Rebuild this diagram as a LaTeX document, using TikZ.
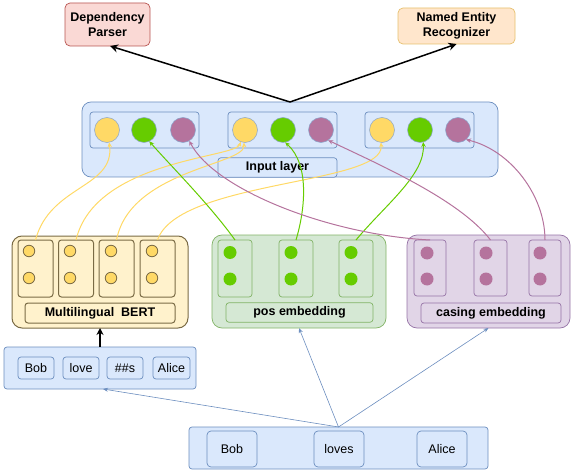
\documentclass[tikz,border=0pt]{standalone}
\usepackage{fontspec}
\setmainfont{Liberation Sans}
\usetikzlibrary{arrows.meta,calc}

\definecolor{blueFill}{HTML}{DAE8FC}
\definecolor{blueLine}{HTML}{6C8EBF}
\definecolor{redFill}{HTML}{FAD9D5}
\definecolor{redLine}{HTML}{B85450}
\definecolor{orangeFill}{HTML}{FFE6CC}
\definecolor{orangeLine}{HTML}{E6C06E}
\definecolor{bertFill}{HTML}{FFF2CC}
\definecolor{bertLine}{HTML}{7A6B45}
\definecolor{yel}{HTML}{FFD966}
\definecolor{greenFill}{HTML}{D5E8D4}
\definecolor{greenLine}{HTML}{82B366}
\definecolor{grn}{HTML}{66CC00}
\definecolor{purpleFill}{HTML}{E1D5E7}
\definecolor{purpleLine}{HTML}{9673A6}
\definecolor{pur}{HTML}{B5739D}

\begin{document}
\begin{tikzpicture}[x=1pt,y=-1pt,
  every node/.style={inner sep=0pt,outer sep=0pt},
  lbl/.style={font=\fontsize{12.5}{14.5}\selectfont\bfseries,align=center},
  tok/.style={font=\fontsize{12.5}{14.5}\selectfont},
  box/.style 2 args={minimum width=#1,minimum height=#2},
  bluebox/.style={draw=blueLine,fill=blueFill,line width=0.7pt,rounded corners=#1},
  bluebox/.default=3pt,
  bertbox/.style={draw=bertLine,fill=bertFill,line width=1pt,rounded corners=#1},
  bertbox/.default=3pt,
  greenbox/.style={draw=greenLine,fill=greenFill,line width=0.7pt,rounded corners=#1},
  greenbox/.default=3pt,
  purplebox/.style={draw=purpleLine,fill=purpleFill,line width=0.7pt,rounded corners=#1},
  purplebox/.default=3pt,
  bigdot/.style={circle,draw=blueLine!80,line width=0.5pt,minimum size=25pt},
  ydot/.style={circle,fill=yel,draw=bertLine,line width=0.8pt,minimum size=11.5pt},
  gdot/.style={circle,fill=grn,minimum size=13pt},
  pdot/.style={circle,fill=pur,minimum size=13pt},
  headarrow/.style={draw=black,line width=1.5pt,-{Stealth[length=8pt,width=8pt]}},
  feedarrow/.style={draw=blueLine,line width=0.6pt,-{Stealth[length=5pt,width=4pt]}},
  ylink/.style={draw=yel,line width=1pt,-{Stealth[length=5pt,width=4.5pt]}},
  glink/.style={draw=grn,line width=1pt,-{Stealth[length=5pt,width=4.5pt]}},
  plink/.style={draw=pur,line width=1pt,-{Stealth[length=5pt,width=4.5pt]}},
]
\useasboundingbox (0,0) rectangle (572,470);

% task heads
\node[lbl,box={85pt}{43pt},draw=redLine,fill=redFill,line width=0.7pt,rounded corners=5pt]
  (dep) at (107.5,24.5) {Dependency\\Parser};
\node[lbl,box={117pt}{36pt},draw=orangeLine,fill=orangeFill,line width=0.7pt,rounded corners=5pt]
  (ner) at (456.5,26) {Named Entity\\Recognizer};

% input layer
\node[bluebox=9pt,box={416pt}{75pt}] (inp) at (290,139.5) {};
\node[bluebox,box={109pt}{36pt}] (g1) at (144.5,130) {};
\node[bluebox,box={109pt}{36pt}] (g2) at (282.5,130) {};
\node[bluebox,box={109pt}{36pt}] (g3) at (419.5,130) {};
\node[bluebox,box={119pt}{19.5pt},lbl] (inplbl) at (277.5,167.5) {Input layer};
\node[bigdot,fill=yel] (iy1) at (107,130) {};
\node[bigdot,fill=grn] (ig1) at (144,130) {};
\node[bigdot,fill=pur] (ip1) at (183,130) {};
\node[bigdot,fill=yel] (iy2) at (245,130) {};
\node[bigdot,fill=grn] (ig2) at (283,130) {};
\node[bigdot,fill=pur] (ip2) at (321,130) {};
\node[bigdot,fill=yel] (iy3) at (382,130) {};
\node[bigdot,fill=grn] (ig3) at (420,130) {};
\node[bigdot,fill=pur] (ip3) at (458,130) {};

% multilingual BERT
\node[bertbox=10pt,box={176pt}{92pt}] (bert) at (100,282) {};
\node[bertbox,box={35pt}{57pt}] (bc1) at (35.5,268.5) {};
\node[bertbox,box={35pt}{57pt}] (bc2) at (76,268.5) {};
\node[bertbox,box={35pt}{57pt}] (bc3) at (116.5,268.5) {};
\node[bertbox,box={35pt}{57pt}] (bc4) at (157.5,268.5) {};
\node[bertbox,box={150pt}{20pt},lbl] (bertlbl) at (100,313) {Multilingual\ \ BERT};
\foreach \i/\x in {1/29,2/70,3/111,4/152}{
  \node[ydot] (by\i a) at (\x,251) {};
  \node[ydot] (by\i b) at (\x,278) {};
}

% pos embedding
\node[greenbox=10pt,box={174pt}{93pt}] (pos) at (299,281.5) {};
\node[greenbox,box={34pt}{57pt}] (pc1) at (235,268.5) {};
\node[greenbox,box={34pt}{57pt}] (pc2) at (296,268.5) {};
\node[greenbox,box={34pt}{57pt}] (pc3) at (356,268.5) {};
\node[greenbox,box={147pt}{19.5pt},lbl] (poslbl) at (299.5,312.5) {pos embedding};
\foreach \i/\x in {1/230,2/291,3/351}{
  \node[gdot] (pg\i a) at (\x,252.5) {};
  \node[gdot] (pg\i b) at (\x,279) {};
}

% casing embedding
\node[purplebox=10pt,box={163pt}{93pt}] (cas) at (488.5,281.5) {};
\node[purplebox,box={32pt}{56pt}] (cc1) at (430,268) {};
\node[purplebox,box={33pt}{56pt}] (cc2) at (490.5,268) {};
\node[purplebox,box={32pt}{56pt}] (cc3) at (545,268) {};
\node[purplebox,box={140pt}{20pt},lbl] (caslbl) at (491,313) {casing embedding};
\foreach \i/\x in {1/427,2/486,3/540}{
  \node[pdot] (cp\i a) at (\x,253) {};
  \node[pdot] (cp\i b) at (\x,279) {};
}

% subword tokens
\node[bluebox,box={192pt}{42pt}] (sub) at (100,368) {};
\node[bluebox,box={36pt}{22pt},tok] (s1) at (36,368) {Bob};
\node[bluebox,box={36pt}{22pt},tok] (s2) at (81,368) {love};
\node[bluebox,box={36pt}{22pt},tok] (s3) at (125,368) {\#\#s};
\node[bluebox,box={37pt}{22pt},tok] (s4) at (171.5,368) {Alice};

% word tokens
\node[bluebox,box={299pt}{42pt}] (words) at (338.5,448) {};
\node[bluebox=4pt,box={50pt}{36pt},tok] (w1) at (232,449) {Bob};
\node[bluebox=4pt,box={50pt}{36pt},tok] (w2) at (339,449) {loves};
\node[bluebox=4pt,box={50pt}{36pt},tok] (w3) at (442,449) {Alice};

% words feed the three encoders
\draw[feedarrow] (words.north) -- ([xshift=3pt]sub.south);
\draw[feedarrow] (words.north) -- (pos.south);
\draw[feedarrow] (words.north) -- (cas.south);
\draw[headarrow,line width=1.3pt,-{Stealth[length=7pt,width=7pt]}] (sub.north) -- (bert.south);

% input layer feeds the task heads
\draw[headarrow] (inp.north) -- ([xshift=2.5pt]dep.south);
\draw[headarrow] (inp.north) -- (ner.south);

% BERT subwords to word slots
\draw[ylink] (bc1.north) .. controls (50,185) and (115,188) .. (iy1.-80);
\draw[ylink] (bc2.north) .. controls (95,160) and (235,158) .. (iy2.-110);
\draw[ylink] (bc3.north) .. controls (130,170) and (245,165) .. (iy2.-95);
\draw[ylink] (bc4.north) .. controls (178,180) and (385,185) .. (iy3.-95);

% pos embeddings to word slots
\draw[glink] (pc1.north) .. controls (210,205) and (170,165) .. (ig1.-65);
\draw[glink] (pc2.north) .. controls (305,210) and (310,165) .. (ig2.-80);
\draw[glink] (pc3.north) .. controls (385,205) and (425,175) .. (ig3.-75);

% casing embeddings to word slots
\draw[plink] (cc1.north) .. controls (330,235) and (215,190) .. (ip1.-60);
\draw[plink] (cc2.north) .. controls (460,200) and (380,165) .. (ip2.-55);
\draw[plink] (cc3.north) .. controls (545,195) and (510,150) .. (ip3.-50);
\end{tikzpicture}
\end{document}
